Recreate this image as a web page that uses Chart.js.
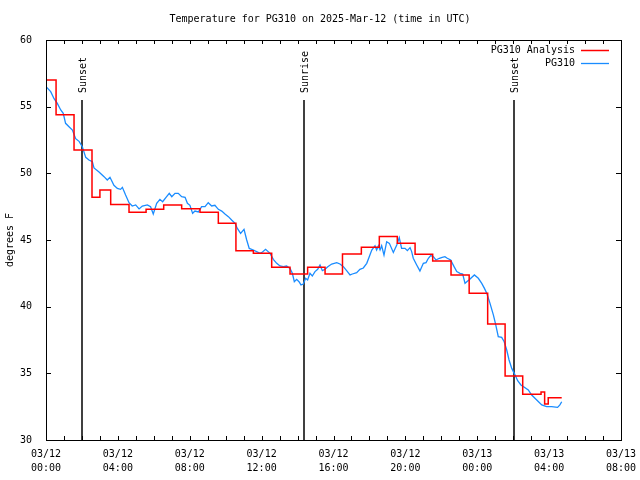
<!DOCTYPE html>
<html>
<head>
<meta charset="utf-8">
<script src="https://cdn.jsdelivr.net/npm/chart.js@4/dist/chart.umd.min.js"></script>
<style>
  html, body { margin: 0; padding: 0; background: #fff; }
  canvas { display: block; }
</style>
</head>
<body>
<canvas id="chart" width="640" height="480"></canvas>
<script>
// hours since 03/12 00:00 UTC
const obsHours = [0, 0.26, 0.45, 0.63, 0.82, 0.96, 1.09, 1.28, 1.47, 1.65, 1.84, 2.02, 2.21, 2.39, 2.58, 2.67, 2.95,
  3.23, 3.41, 3.56, 3.78, 3.97, 4.15, 4.25, 4.43, 4.62, 4.8, 4.99, 5.18, 5.36, 5.64, 5.82, 5.97, 6.16, 6.34, 6.49,
  6.68, 6.86, 7.0, 7.18, 7.36, 7.55, 7.74, 7.87, 8.01, 8.16, 8.29, 8.48, 8.66, 8.85, 9.03, 9.22, 9.4, 9.59, 9.78,
  9.96, 10.15, 10.33, 10.52, 10.65, 10.83, 11.02, 11.17, 11.31, 11.54, 11.72, 11.91, 12.05, 12.22, 12.47, 12.65,
  12.84, 13.02, 13.21, 13.39, 13.58, 13.71, 13.82, 13.95, 14.08, 14.19, 14.32, 14.45, 14.56, 14.69, 14.82, 14.97,
  15.12, 15.25, 15.38, 15.53, 15.68, 15.9, 16.18, 16.36, 16.55, 16.73, 16.92, 17.05, 17.29, 17.47, 17.66, 17.85,
  17.99, 18.13, 18.31, 18.4, 18.5, 18.59, 18.68, 18.81, 18.96, 19.11, 19.33, 19.52, 19.66, 19.79, 19.98, 20.11,
  20.26, 20.35, 20.44, 20.63, 20.81, 21.0, 21.15, 21.28, 21.41, 21.56, 21.7, 21.89, 22.05, 22.2, 22.33, 22.52,
  22.71, 22.86, 23.04, 23.19, 23.32, 23.45, 23.54, 23.84, 24.06, 24.25, 24.4, 24.53, 24.71, 24.9, 25.03, 25.17,
  25.36, 25.5, 25.64, 25.77, 25.92, 26.06, 26.25, 26.43, 26.62, 26.84, 27.03, 27.31, 27.59, 27.86, 28.14, 28.47,
  28.6, 28.7];
const obsTemps = [56.5, 56.13, 55.6, 55.25, 54.75, 54.5, 53.75, 53.5, 53.25, 52.6, 52.4, 52.0, 51.2, 51.0, 50.87, 50.4, 50.1,
  49.75, 49.5, 49.7, 49.1, 48.87, 48.8, 48.95, 48.37, 47.8, 47.55, 47.63, 47.33, 47.55, 47.63, 47.5, 46.95, 47.75, 48.05, 47.87,
  48.2, 48.5, 48.25, 48.5, 48.5, 48.25, 48.2, 47.75, 47.6, 47.0, 47.17, 47.1, 47.5, 47.5, 47.8, 47.55, 47.6, 47.3, 47.17,
  46.95, 46.75, 46.5, 46.25, 45.87, 45.5, 45.8, 45.0, 44.37, 44.25, 44.13, 44.0, 44.1, 44.3, 44.0, 43.55,
  43.25, 43.05, 43.0, 43.05, 42.87, 42.5, 41.87, 42.05, 41.87, 41.63, 41.7, 42.13, 42.0, 42.5, 42.3, 42.63,
  42.8, 43.13, 42.7, 42.8, 43.0, 43.2, 43.3, 43.2, 43.0, 42.7, 42.38, 42.45, 42.55, 42.8, 42.9, 43.25,
  43.75, 44.25, 44.57, 44.25, 44.57, 44.25, 44.57, 43.87, 44.87, 44.75, 44.07, 44.63, 45.17, 44.37, 44.37, 44.2,
  44.43, 44.13, 43.63, 43.13, 42.68, 43.25, 43.3, 43.63, 43.83, 43.75, 43.5, 43.63, 43.7, 43.75, 43.63, 43.5,
  43.0, 42.63, 42.5, 42.45, 41.75, 41.9, 42.0, 42.38, 42.13, 41.75, 41.37, 41.0, 40.25, 39.37, 38.63, 37.75,
  37.7, 37.37, 36.75, 36.0, 35.37, 35.0, 34.45, 34.13, 33.95, 33.75, 33.37, 33.0, 32.63, 32.5, 32.5, 32.45,
  32.63, 32.87];

// analysis: each value starts at its hour
const anaHours = [0, 0.56, 1.56, 2.56, 3.0, 3.6, 4.62, 5.57, 6.55, 7.55, 8.57, 9.59, 10.57, 11.54, 12.56, 13.58,
  14.56, 15.53, 16.5, 17.55, 18.55, 19.55, 20.54, 21.52, 22.54, 23.55, 24.58, 25.55, 26.53, 27.55, 27.75, 27.95, 28.7];
const anaTemps = [57.0, 54.4, 51.75, 48.2, 48.75, 47.67, 47.08, 47.3, 47.63, 47.35, 47.08, 46.25, 44.2, 44.0, 42.95, 42.45,
  42.95, 42.45, 43.95, 44.45, 45.27, 44.75, 43.93, 43.43, 42.38, 41.0, 38.7, 34.8, 33.43, 33.6, 32.7, 33.17, 33.17];

const eventHours = [2.02, 14.36, 26.04];
const eventNames = ['Sunset', 'Sunrise', 'Sunset'];

const xTickDates = ['03/12', '03/12', '03/12', '03/12', '03/12', '03/12', '03/13', '03/13', '03/13'];
const xTickTimes = ['00:00', '04:00', '08:00', '12:00', '16:00', '20:00', '00:00', '04:00', '08:00'];
const yTicks = [30, 35, 40, 45, 50, 55, 60];

const FONT = 'DejaVu Sans Mono';

const overlay = {
  id: 'overlay',
  beforeDatasetsDraw(chart) {
    const {ctx, chartArea: a, scales: {x}} = chart;
    ctx.save();
    ctx.strokeStyle = '#000';
    ctx.lineWidth = 1.5;
    ctx.fillStyle = '#000';
    ctx.font = '10px "' + FONT + '"';
    eventHours.forEach((h, i) => {
      const px = Math.round(x.getPixelForValue(h));
      ctx.beginPath();
      ctx.moveTo(px, a.top + 60);
      ctx.lineTo(px, a.bottom);
      ctx.stroke();
      ctx.save();
      ctx.translate(px + 1, a.top + 53);
      ctx.rotate(-Math.PI / 2);
      ctx.textAlign = 'left';
      ctx.textBaseline = 'middle';
      ctx.fillText(eventNames[i], 0, 0);
      ctx.restore();
    });
    ctx.restore();
  },
  afterDraw(chart) {
    const {ctx, chartArea: a, scales: {x, y}} = chart;
    ctx.save();
    ctx.strokeStyle = '#000';
    ctx.lineWidth = 1;
    ctx.strokeRect(a.left + 0.5, a.top + 0.5, a.right - a.left, a.bottom - a.top);
    ctx.beginPath();
    for (let h = 0; h <= 32; h++) {
      const px = Math.round(x.getPixelForValue(h)) + 0.5;
      ctx.moveTo(px, a.bottom); ctx.lineTo(px, a.bottom - 4);
      ctx.moveTo(px, a.top); ctx.lineTo(px, a.top + 4);
    }
    yTicks.forEach(v => {
      const py = Math.round(y.getPixelForValue(v)) + 0.5;
      ctx.moveTo(a.left, py); ctx.lineTo(a.left + 5, py);
      ctx.moveTo(a.right, py); ctx.lineTo(a.right - 5, py);
    });
    ctx.stroke();

    // title
    ctx.fillStyle = '#000';
    ctx.font = '10px "' + FONT + '"';
    ctx.textAlign = 'center';
    ctx.textBaseline = 'middle';
    ctx.fillText('Temperature for PG310 on 2025-Mar-12 (time in UTC)', 320, 19);

    // legend
    ctx.textAlign = 'right';
    chart.data.datasets.forEach((ds, i) => {
      const ly = a.top + 10 + i * 13;
      ctx.fillText(ds.label, a.right - 46, ly);
      ctx.strokeStyle = ds.borderColor;
      ctx.lineWidth = ds.borderWidth;
      ctx.beginPath();
      ctx.moveTo(a.right - 40, ly + 0.5);
      ctx.lineTo(a.right - 12, ly + 0.5);
      ctx.stroke();
    });
    ctx.restore();
  }
};

new Chart(document.getElementById('chart'), {
  type: 'line',
  data: {
    datasets: [
      {
        label: 'PG310 Analysis',
        data: anaHours.map((h, i) => ({x: h, y: anaTemps[i]})),
        borderColor: '#ff0000',
        borderWidth: 1.5,
        pointRadius: 0,
        stepped: 'before',
        fill: false
      },
      {
        label: 'PG310',
        data: obsHours.map((h, i) => ({x: h, y: obsTemps[i]})),
        borderColor: '#1a8cff',
        borderWidth: 1.3,
        pointRadius: 0,
        tension: 0,
        fill: false
      }
    ]
  },
  options: {
    responsive: false,
    animation: false,
    devicePixelRatio: 1,
    layout: { padding: { top: 40, right: 19, left: 0, bottom: 0 } },
    plugins: {
      legend: { display: false },
      tooltip: { enabled: false }
    },
    scales: {
      x: {
        type: 'linear',
        min: 0,
        max: 32,
        afterFit: s => { s.height = 40; },
        afterBuildTicks: s => { s.ticks = xTickTimes.map((t, i) => ({value: i * 4})); },
        grid: { display: false },
        border: { display: false },
        ticks: {
          autoSkip: false,
          maxRotation: 0,
          padding: -1,
          color: '#000',
          font: { family: FONT, size: 10, lineHeight: 1.4 },
          callback: v => [xTickDates[v / 4], xTickTimes[v / 4]]
        }
      },
      y: {
        min: 30,
        max: 60,
        afterFit: s => { s.width = 46; },
        afterBuildTicks: s => { s.ticks = yTicks.map(v => ({value: v})); },
        grid: { display: false },
        border: { display: false },
        ticks: {
          padding: 6,
          color: '#000',
          font: { family: FONT, size: 10 }
        },
        title: {
          display: true,
          text: 'degrees F',
          color: '#000',
          padding: { top: 4, bottom: 0 },
          font: { family: FONT, size: 10 }
        }
      }
    }
  },
  plugins: [overlay]
});
</script>
</body>
</html>
